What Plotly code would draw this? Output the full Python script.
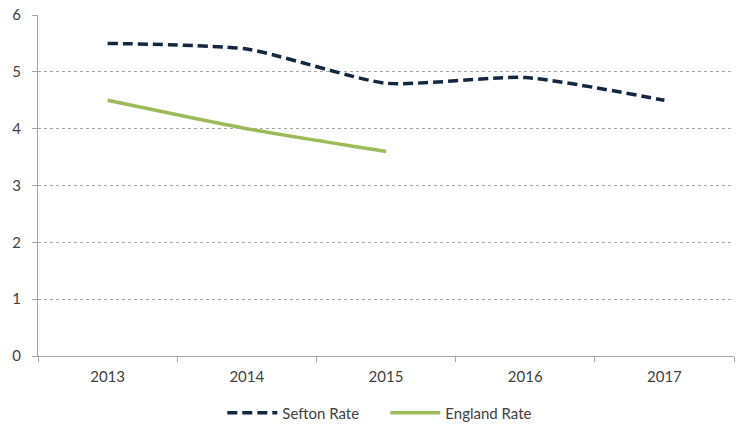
import plotly.graph_objects as go

years = ["2013", "2014", "2015", "2016", "2017"]
sefton_rate = [5.5, 5.4, 4.8, 4.9, 4.5]
england_years = ["2013", "2014", "2015"]
england_rate = [4.5, 4.0, 3.6]
y_ticks = [0, 1, 2, 3, 4, 5, 6]

fig = go.Figure()
fig.add_trace(go.Scatter(
    x=years, y=sefton_rate, mode="lines", name="Sefton Rate",
    line=dict(color="#132840", width=3.5, dash="10px,5px", shape="spline", smoothing=0.6),
))
fig.add_trace(go.Scatter(
    x=england_years, y=england_rate, mode="lines", name="England Rate",
    line=dict(color="#9BBB59", width=3.5, shape="spline", smoothing=0.6),
))

fig.update_layout(
    width=741, height=431,
    margin=dict(l=38, r=7, t=15, b=75, autoexpand=False),
    paper_bgcolor="white", plot_bgcolor="white",
    font=dict(family="Lato, Open Sans, sans-serif", size=15, color="#404040"),
    showlegend=True,
    legend=dict(orientation="h", x=0.52, xanchor="center", xref="container",
                y=0.042, yanchor="middle", yref="container", entrywidth=98,
                font=dict(size=15, color="#404040"), itemwidth=50, tracegroupgap=0),
    xaxis=dict(
        type="category", categoryorder="array", categoryarray=years,
        range=[-0.5, 4.5], showgrid=False, showline=True, linecolor="#A6A6A6", linewidth=1,
        ticks="outside", tickson="boundaries", ticklen=5, tickcolor="#A6A6A6",
        tickfont=dict(size=15, color="#404040"), zeroline=False,
        ticklabelstandoff=7, automargin=False,
    ),
    yaxis=dict(
        range=[0, 6], tickvals=y_ticks, showgrid=True, gridcolor="#A6A6A6", griddash="dot",
        gridwidth=1, showline=True, linecolor="#A6A6A6", linewidth=1,
        ticks="outside", ticklen=5, tickcolor="#A6A6A6", zeroline=False,
        tickfont=dict(size=15, color="#404040"), ticklabelstandoff=8, automargin=False,
    ),
)

fig.write_html(
    "out.html",
    config={"displayModeBar": False, "responsive": False},
    post_script=(
        "document.documentElement.style.margin='0';"
        "document.documentElement.style.overflow='hidden';"
        "document.body.style.margin='0';"
        "document.body.style.overflow='hidden';"
    ),
)
